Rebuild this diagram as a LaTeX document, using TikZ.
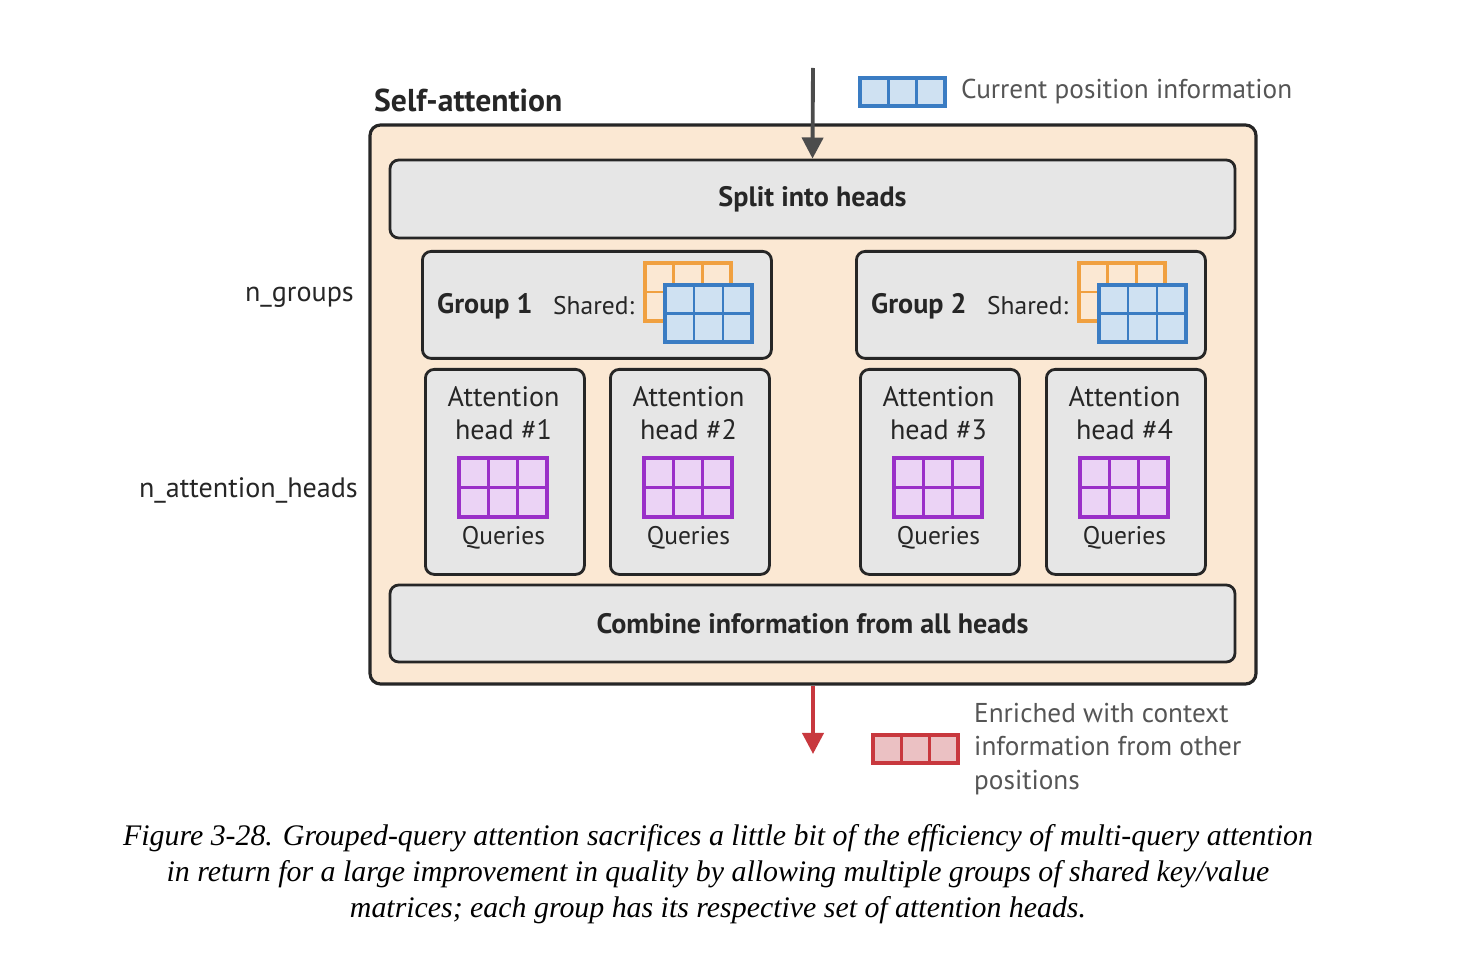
\documentclass[tikz,border=0pt]{standalone}
\usepackage{fontspec}
\setmainfont{Liberation Serif}
\setsansfont{PT Sans}
\usetikzlibrary{arrows.meta,positioning}
\definecolor{peach}{HTML}{FBE8D3}
\definecolor{boxgray}{HTML}{E6E6E6}
\definecolor{qblue}{HTML}{3A7CC3}
\definecolor{qbluefill}{HTML}{CFE1F2}
\definecolor{korange}{HTML}{F0A040}
\definecolor{qpurple}{HTML}{9A2FC8}
\definecolor{qpurplefill}{HTML}{EBD3F5}
\definecolor{ored}{HTML}{C8383E}
\definecolor{oredfill}{HTML}{EBC1C3}
\definecolor{txtgray}{HTML}{555555}
% grid of cells: x, y, width, height, columns, rows, draw, fill
\newcommand{\cellgrid}[8]{%
  \fill[#8] (#1,#2) rectangle ++(#3,#4);
  \foreach \c in {1,...,#5}{\draw[#7,line width=1.6pt] ({#1+(\c-1)*#3/#5},#2) rectangle ++({#3/#5},#4);}
  \foreach \r in {1,...,#6}{\draw[#7,line width=1.6pt] (#1,{#2+(\r-1)*#4/#6}) -- ++(#3,0);}
  \draw[#7,line width=2pt] (#1,#2) rectangle ++(#3,#4);}
\begin{document}
\begin{tikzpicture}[x=0.02cm,y=-0.02cm,font=\sffamily,
  panel/.style={draw=black!85, line width=1.6pt, rounded corners=5pt, fill=boxgray},
  lbl/.style={font=\sffamily\fontsize{16}{18}\selectfont, text=black!85}]
\useasboundingbox (0,0) rectangle (1482,956);
\node (outer) [draw=black!85, line width=1.8pt, rounded corners=6pt, fill=peach, minimum width=886*0.02cm, minimum height=559*0.02cm] at (813,404.5) {};
\node (title) [lbl, anchor=west, font=\sffamily\bfseries\fontsize{18}{20}\selectfont] at (368,100) {Self-attention};
\node (split) [panel, minimum width=845*0.02cm, minimum height=78*0.02cm, lbl] at (812.5,199) {\bfseries Split into heads};
\node (combine) [panel, minimum width=845*0.02cm, minimum height=77*0.02cm, lbl] at (812.5,623.5) {\bfseries Combine information from all heads};
% groups
\foreach \gx/\gn in {421/1, 855/2}{
  \node (group\gn) [panel, minimum width=349*0.02cm, minimum height=107*0.02cm, anchor=north west] at (\gx,250) {};
  \node [lbl, anchor=west] at (\gx+10,306) {\bfseries Group \gn};
  \node [lbl, anchor=west, font=\sffamily\fontsize{14.5}{16}\selectfont] at (\gx+126,306) {Shared:};
  \cellgrid{\gx+224}{263}{86}{58}{3}{2}{korange}{peach}
  \cellgrid{\gx+244}{285}{87}{57}{3}{2}{qblue}{qbluefill}
}
% attention heads
\foreach \hx/\hn in {424/1, 609/2, 859/3, 1045/4}{
  \node (head\hn) [panel, minimum width=159*0.02cm, minimum height=205*0.02cm, anchor=north west] at (\hx,368) {};
  \node [lbl, align=center, font=\sffamily\fontsize{16}{19}\selectfont] at (\hx+79.5,413) {Attention\\head \#\hn};
  \cellgrid{\hx+35}{458}{88}{59}{3}{2}{qpurple}{qpurplefill}
  \node [lbl, font=\sffamily\fontsize{14.5}{16}\selectfont] at (\hx+79.5,538) {Queries};
}
\node (ngroups) [lbl, anchor=east] at (360,297) {n\_groups};
\node (nheads) [lbl, anchor=east] at (364,490) {n\_attention\_heads};
% input and output
\coordinate (in) at (813,68);
\coordinate (out) at (813,754);
\draw [black!70, line width=2.2pt, -{Triangle[length=12pt,width=12pt]}] (in) -- (split.north);
\draw [ored, line width=2.2pt, -{Triangle[length=12pt,width=12pt]}] (outer.south) -- (out);
% legend
\cellgrid{860}{78}{85}{28}{3}{1}{qblue}{qbluefill}
\node (curinfo) [lbl, anchor=west, text=txtgray, font=\sffamily\fontsize{15.5}{17}\selectfont] at (955,92) {Current position information};
\cellgrid{873}{735}{85}{28}{3}{1}{ored}{oredfill}
\node (enriched) [lbl, anchor=north west, align=left, text=txtgray, font=\sffamily\fontsize{15.5}{19}\selectfont] at (968,697) {Enriched with context\\information from other\\positions};
% caption
\node (caption) [align=center, font=\rmfamily\itshape\fontsize{17}{20.5}\selectfont] at (718,874) {Figure 3-28. Grouped-query attention sacrifices a little bit of the efficiency of multi-query attention\\in return for a large improvement in quality by allowing multiple groups of shared key/value\\matrices; each group has its respective set of attention heads.};
\end{tikzpicture}
\end{document}
